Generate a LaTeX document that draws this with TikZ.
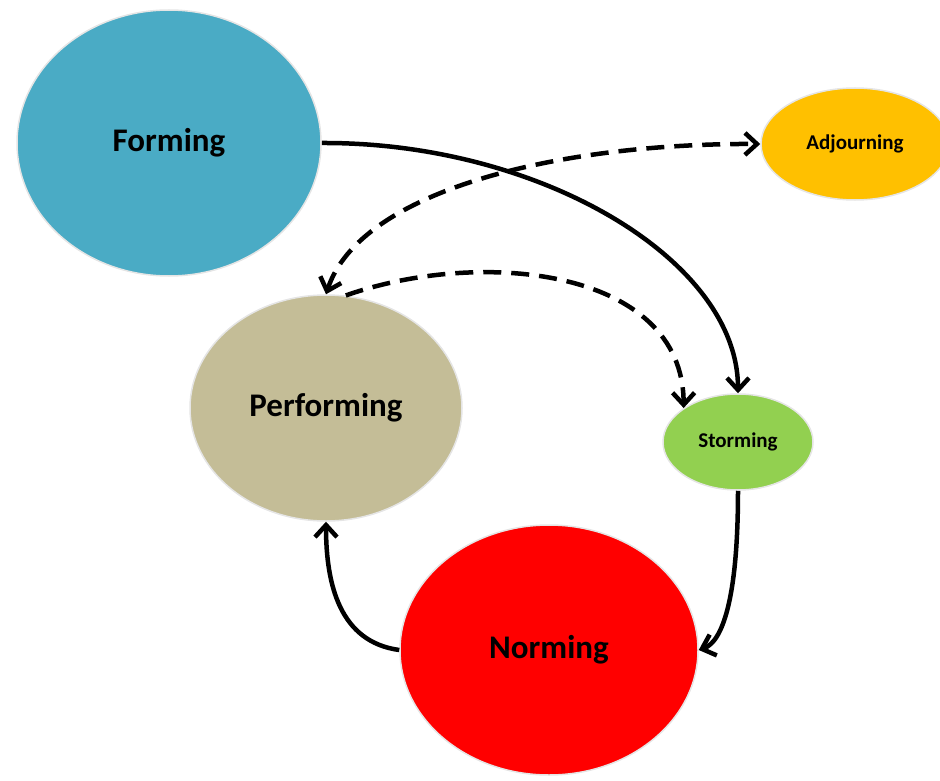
\documentclass[tikz,border=0pt]{standalone}
\usepackage{fontspec}
\setmainfont{Carlito}
\usetikzlibrary{shapes.geometric,arrows.meta}
\definecolor{cForm}{HTML}{4AABC5}
\definecolor{cPerf}{HTML}{C4BD97}
\definecolor{cAdj}{HTML}{FFC000}
\definecolor{cStorm}{HTML}{92D050}
\definecolor{cNorm}{HTML}{FF0000}
\tikzset{
  stage/.style={ellipse, inner sep=0pt, draw=black!10, line width=1.5pt, font=\bfseries},
  big/.style={font=\fontsize{33}{36}\selectfont\bfseries},
  small/.style={font=\fontsize{21}{24}\selectfont\bfseries},
  barb/.tip={Straight Barb[length=12pt,width=22pt]},
  conn/.style={line width=4.5pt, -barb},
  dconn/.style={conn, dash pattern=on 18pt off 10pt},
}
\begin{document}
\begin{tikzpicture}[x=1pt,y=-1pt]
\useasboundingbox (0,0) rectangle (940,781);
\clip (0,0) rectangle (940,781);
\node[stage, big, fill=cForm, minimum width=304pt, minimum height=266pt] (F) at (169,143) {Forming};
\node[stage, big, fill=cPerf, minimum width=272pt, minimum height=226pt] (P) at (326,408) {Performing};
\node[stage, small, fill=cAdj, minimum width=188pt, minimum height=112pt] (A) at (855,144) {Adjourning};
\node[stage, small, fill=cStorm, minimum width=150pt, minimum height=96pt] (S) at (738,442) {Storming};
\node[stage, big, fill=cNorm, minimum width=298pt, minimum height=250pt] (N) at (549,650) {Norming};

\draw[conn] (F.east) .. controls (540,142) and (738,260) .. (S.north);
\draw[dconn, barb-barb] (P.north) .. controls (360,190) and (560,143) .. (A.west);
\draw[dconn] (P.80) .. controls (480,248) and (683,268) .. (S.148);
\draw[conn] (S.south) .. controls (738,600) and (722,642) .. (N.east);
\draw[conn] (N.west) .. controls (340,642) and (326,585) .. (P.south);
\end{tikzpicture}
\end{document}
